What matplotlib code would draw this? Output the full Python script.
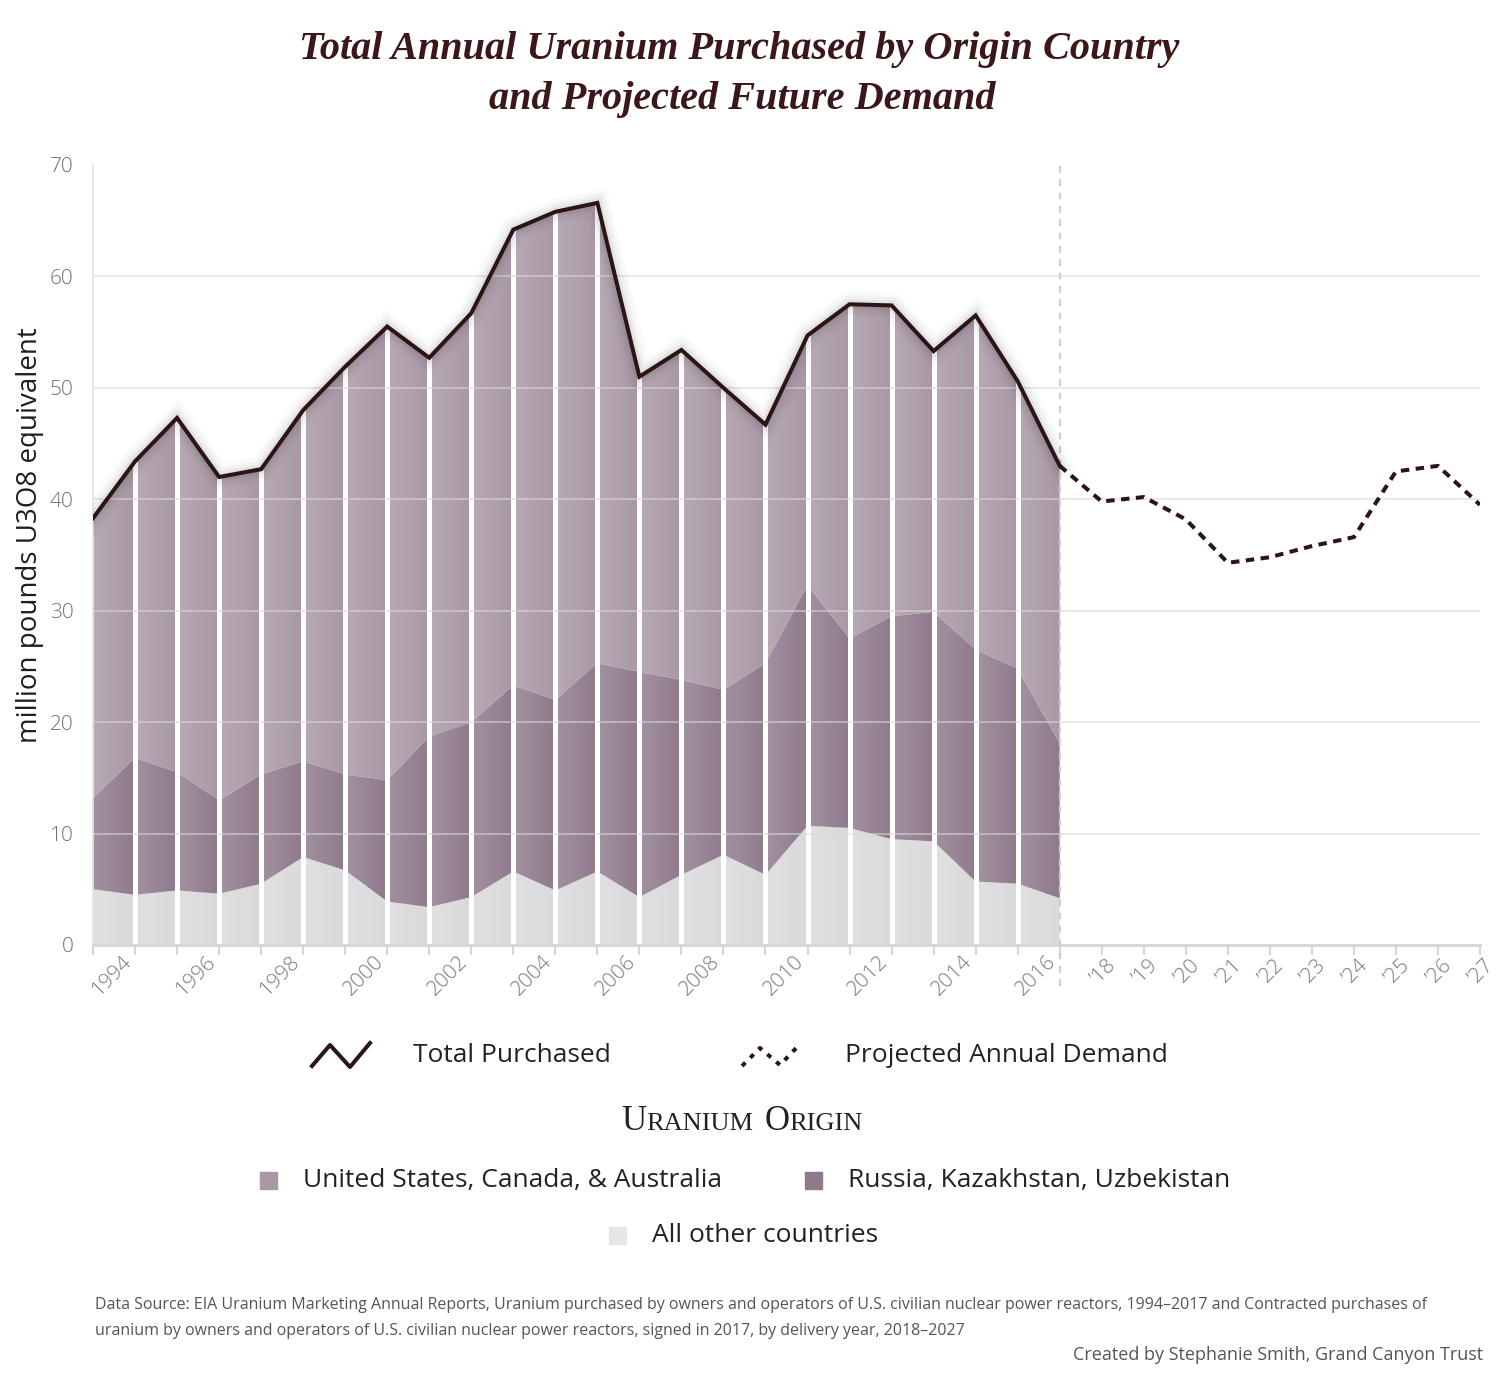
import numpy as np
import matplotlib
matplotlib.use('Agg')
import matplotlib.pyplot as plt
from matplotlib import patheffects as pe
from matplotlib import font_manager
from matplotlib.lines import Line2D
from matplotlib.patches import Rectangle, Polygon
from matplotlib.offsetbox import TextArea, HPacker, AnchoredOffsetbox
import matplotlib.transforms as mtransforms

plt.rcParams['font.family'] = ['Open Sans', 'DejaVu Sans']
installed = {f.name for f in font_manager.fontManager.ttflist}
narrow = 'Liberation Sans Narrow' if 'Liberation Sans Narrow' in installed else 'Open Sans'

# Purchased uranium by origin (million lb U3O8 equivalent)
years = np.arange(1994, 2018)
other = [5.0, 4.5, 4.9, 4.6, 5.5, 7.9, 6.7, 3.9, 3.4, 4.3, 6.6, 4.9,
         6.6, 4.3, 6.3, 8.1, 6.3, 10.7, 10.5, 9.5, 9.3, 5.7, 5.5, 4.2]
russia = [8.2, 12.3, 10.6, 8.4, 9.8, 8.6, 8.6, 10.9, 15.3, 15.7, 16.7, 17.1,
          18.7, 20.2, 17.5, 14.8, 19.0, 21.6, 17.0, 20.0, 20.6, 20.8, 19.3, 13.9]
us_can_aus = [25.1, 26.6, 31.8, 29.0, 27.4, 31.5, 36.6, 40.7, 34.0, 36.7, 40.9, 43.8,
              41.3, 26.5, 29.6, 27.1, 21.4, 22.4, 30.0, 27.9, 23.4, 30.0, 25.8, 24.9]

# Projected annual demand (contracted purchases), 2018-2027
proj_years = np.arange(2018, 2028)
projected = [39.8, 40.2, 38.2, 34.3, 34.8, 35.8, 36.6, 42.5, 43.0, 39.5]

tick_years = list(range(1994, 2028))
tick_labels = ['1994', '', '1996', '', '1998', '', '2000', '', '2002', '', '2004', '',
               '2006', '', '2008', '', '2010', '', '2012', '', '2014', '', '2016', '',
               '\u201918', '\u201919', '\u201920', '\u201921', '\u201922', '\u201923',
               '\u201924', '\u201925', '\u201926', '\u201927']

c_other = '#dad9db'
c_russia = '#8f7a8c'
c_us = '#a898a5'
line_c = '#2b1517'
W, H = 1500, 1374


def fpos(x, y):
    return x / W, 1 - y / H


fig = plt.figure(figsize=(15, 13.74), dpi=100)
ax = fig.add_axes([93 / W, 1 - 945 / H, (1480 - 93) / W, (945 - 165) / H])

ax.stackplot(years, other, russia, us_can_aus, colors=[c_other, c_russia, c_us],
             lw=0, zorder=1)
total = np.sum([other, russia, us_can_aus], axis=0)

# soft left-to-right shading inside each yearly column
n = 40
shade = np.tile(np.linspace(0.18, 0.0, n), len(years) - 1)
img = np.ones((1, len(shade), 4))
img[..., 3] = shade
im = ax.imshow(img, extent=(years[0], years[-1], 0, 70), aspect='auto',
               interpolation='bilinear', zorder=1.5)
clip = Polygon([(years[0], 0)] + list(zip(years, total)) + [(years[-1], 0)],
               closed=True, transform=ax.transData, fc='none', ec='none')
ax.add_patch(clip)
im.set_clip_path(clip)

ax.vlines(years[1:-1], 0, total[1:-1], colors='white', lw=3.6, zorder=2)
ax.hlines(range(10, 70, 10), 1994, 2027, colors='#d9d9d9', lw=1.2, alpha=0.65, zorder=2.5)

shadow = [pe.Stroke(linewidth=18, foreground='k', alpha=0.025),
          pe.Stroke(linewidth=12, foreground='k', alpha=0.035),
          pe.Stroke(linewidth=7, foreground='k', alpha=0.05),
          pe.Normal()]
ax.plot(years, total, color=line_c, lw=2.9, zorder=5, solid_joinstyle='miter',
        path_effects=shadow)
ax.plot(np.r_[years[-1], proj_years], np.r_[total[-1], projected], color=line_c,
        lw=2.9, ls=(0, (2.1, 1.6)), zorder=5)

ax.axvline(years[-1], ymin=-0.052, ymax=1, color='#cfcfcf', lw=1.6,
           ls=(0, (3, 3)), clip_on=False, zorder=4)

ax.set_xlim(1994, 2027)
ax.set_ylim(0, 70)
ax.set_yticks(range(0, 80, 10))
ax.set_xticks(tick_years)
ax.set_xticklabels([])
for s in ['top', 'right']:
    ax.spines[s].set_visible(False)
ax.spines['left'].set_color('#e4e4e4')
ax.spines['left'].set_linewidth(1.2)
ax.spines['bottom'].set_color('#d6d6d6')
ax.spines['bottom'].set_linewidth(2)
ax.spines['bottom'].set_zorder(6)
ax.tick_params(axis='y', length=0, pad=14, labelsize=15, labelcolor='#707070')
for t in ax.get_yticklabels():
    t.set_fontfamily(narrow)
    t.set_fontweight('light')
ax.tick_params(axis='x', length=7, width=1.5, color='#d6d6d6')

for yr, lab in zip(tick_years, tick_labels):
    if not lab:
        continue
    dx = 19 if len(lab) == 4 else 2
    dy = -31 if len(lab) == 4 else -27
    off = mtransforms.ScaledTranslation(dx / 100, dy / 100, fig.dpi_scale_trans)
    ax.text(yr, 0, lab, transform=ax.get_xaxis_transform() + off, rotation=45,
            rotation_mode='anchor', ha='center', va='center', fontsize=15,
            color='#7a7a7a', family=narrow, weight='light', clip_on=False)

fig.text(*fpos(30, 535), 'million pounds U3O8 equivalent', rotation=90, ha='center',
         va='center', fontsize=20, color='#1e1e1e')

title_kw = dict(ha='center', va='center', fontsize=29, family='Liberation Serif',
                style='italic', weight='bold', color='#3b1719')
fig.text(*fpos(739, 50), 'Total Annual Uranium Purchased by Origin Country', **title_kw)
fig.text(*fpos(742, 100), 'and Projected Future Demand', **title_kw)

# line legend
fig.add_artist(Line2D([312 / W, 330 / W, 350 / W, 370 / W],
                      [1 - 1066 / H, 1 - 1045 / H, 1 - 1067 / H, 1 - 1043 / H],
                      color=line_c, lw=2.9, transform=fig.transFigure))
fig.add_artist(Line2D([742 / W, 760 / W, 780 / W, 800 / W],
                      [1 - 1066 / H, 1 - 1048 / H, 1 - 1065 / H, 1 - 1044 / H],
                      color=line_c, lw=2.9, ls=(0, (1.2, 1.7)), transform=fig.transFigure))
leg_kw = dict(va='center', fontsize=19, color='#222222')
fig.text(*fpos(413, 1055), 'Total Purchased', **leg_kw)
fig.text(*fpos(845, 1055), 'Projected Annual Demand', **leg_kw)

# "Uranium Origin" in small caps
sc = dict(family='Liberation Serif', color='#222222')
w1 = HPacker(children=[TextArea('U', textprops=dict(fontsize=25, **sc)),
                       TextArea('RANIUM', textprops=dict(fontsize=19, **sc))],
             align='baseline', pad=0, sep=0)
w2 = HPacker(children=[TextArea('O', textprops=dict(fontsize=25, **sc)),
                       TextArea('RIGIN', textprops=dict(fontsize=19, **sc))],
             align='baseline', pad=0, sep=0)
head = HPacker(children=[w1, w2], align='baseline', pad=0, sep=8)
fig.add_artist(AnchoredOffsetbox(loc='center', child=head, frameon=False, pad=0,
                                 bbox_to_anchor=fpos(742, 1121),
                                 bbox_transform=fig.transFigure, borderpad=0))

sq = 17
for (cx, cy), col, lab in [((268, 1180), c_us, 'United States, Canada, & Australia'),
                           ((813, 1180), c_russia, 'Russia, Kazakhstan, Uzbekistan'),
                           ((617, 1235), '#e6e6e8', 'All other countries')]:
    fig.add_artist(Rectangle(fpos(cx - sq / 2, cy + sq / 2), sq / W, sq / H, color=col,
                             transform=fig.transFigure))
    fig.text(*fpos(cx + 35, cy), lab, **leg_kw)

src_kw = dict(va='center', fontsize=11.5, color='#555555')
fig.text(*fpos(95, 1305), 'Data Source: EIA Uranium Marketing Annual Reports, Uranium purchased by '
         'owners and operators of U.S. civilian nuclear power reactors, 1994\u20132017 and '
         'Contracted purchases of', **src_kw)
fig.text(*fpos(95, 1331), 'uranium by owners and operators of U.S. civilian nuclear power reactors, '
         'signed in 2017, by delivery year, 2018\u20132027', **src_kw)
fig.text(*fpos(1483, 1355), 'Created by Stephanie Smith, Grand Canyon Trust', ha='right',
         va='center', fontsize=13, color='#555555')

fig.savefig('out.png', dpi=100)
